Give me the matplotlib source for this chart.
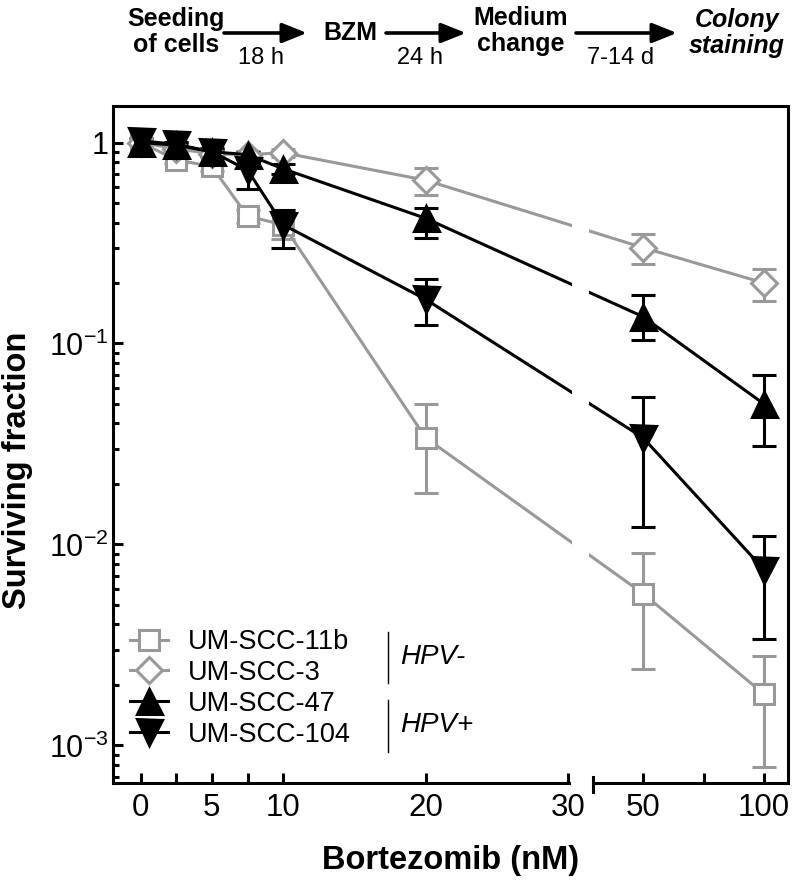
import numpy as np
import matplotlib
matplotlib.use('Agg')
import matplotlib.pyplot as plt
from matplotlib.patches import Rectangle, FancyArrowPatch
from matplotlib.lines import Line2D

plt.rcParams['font.family'] = ['Liberation Sans', 'DejaVu Sans']
plt.rcParams['mathtext.fontset'] = 'custom'
plt.rcParams['mathtext.rm'] = 'Liberation Sans'
plt.rcParams['mathtext.it'] = 'Liberation Sans:italic'

# data
dose = [0, 2.5, 5, 7.5, 10, 20, 50, 100]

scc11b = [1.0, 0.82, 0.76, 0.43, 0.39, 0.034, 0.0057, 0.0018]
scc11b_lo = [1.0, 0.79, 0.72, 0.40, 0.33, 0.018, 0.0024, 0.00078]
scc11b_hi = [1.0, 0.85, 0.80, 0.46, 0.46, 0.050, 0.0091, 0.0028]

scc3 = [1.0, 0.93, 0.88, 0.87, 0.89, 0.65, 0.30, 0.20]
scc3_lo = [1.0, 0.90, 0.85, 0.83, 0.85, 0.55, 0.25, 0.162]
scc3_hi = [1.0, 0.96, 0.91, 0.91, 0.93, 0.745, 0.35, 0.235]

scc47 = [1.0, 0.97, 0.90, 0.87, 0.74, 0.42, 0.136, 0.050]
scc47_lo = [1.0, 0.95, 0.87, 0.84, 0.70, 0.335, 0.104, 0.031]
scc47_hi = [1.0, 0.99, 0.93, 0.90, 0.78, 0.475, 0.175, 0.070]

scc104 = [1.02, 0.98, 0.90, 0.73, 0.39, 0.166, 0.034, 0.0075]
scc104_lo = [1.0, 0.95, 0.86, 0.59, 0.30, 0.124, 0.0122, 0.0034]
scc104_hi = [1.05, 1.01, 0.94, 0.84, 0.46, 0.21, 0.054, 0.011]

labels = ['UM-SCC-11b', 'UM-SCC-3', 'UM-SCC-47', 'UM-SCC-104']
xticks = [0, 2.5, 5, 7.5, 10, 20, 30, 50, 75, 100]
xticklabels = ['0', '', '5', '', '10', '20', '30', '50', '', '100']

GRAY = '#999999'
W, H = 794, 893


def fx(px):
    return px / W


def fy(py):
    return 1 - py / H


# broken x axis: 0-30 linear, then 50-100 compressed
BRK = 30.0
U50 = 35.27
R = 0.17


def fwd(x):
    x = np.asarray(x, float)
    return np.where(x <= BRK, x, U50 + (x - 50) * R)


def inv(u):
    u = np.asarray(u, float)
    return np.where(u <= BRK, u,
                    np.where(u < U50 + (BRK - 50) * R, BRK, 50 + (u - U50) / R))


fig = plt.figure(figsize=(W / 100, H / 100), dpi=100)
ax = fig.add_axes([fx(113), fy(783), fx(788) - fx(113), fy(106) - fy(783)])
ax.set_xscale('function', functions=(fwd, inv))
ax.set_yscale('log')
XMIN, XMAX = -1.945, 109.9
ax.set_xlim(XMIN, XMAX)
ax.set_ylim(6.5e-4, 1.52)

series = [
    (scc11b, scc11b_lo, scc11b_hi, 's', GRAY, 'white', 14.5),
    (scc3, scc3_lo, scc3_hi, 'D', GRAY, 'white', 13),
    (scc47, scc47_lo, scc47_hi, '^', 'black', 'black', 18),
    (scc104, scc104_lo, scc104_hi, 'v', 'black', 'black', 18),
]

handles = []
for i, (v, lo, hi, m, c, fc, ms) in enumerate(series):
    v = np.array(v)
    yerr = [v - np.array(lo), np.array(hi) - v]
    ax.errorbar(dose, v, yerr=yerr, fmt='none', ecolor=c, elinewidth=2.2,
                capsize=8.5, capthick=2.2, zorder=2 + i * 0.01)
    ln, = ax.plot(dose, v, color=c, lw=2.2, marker=m, ms=ms, mfc=fc, mec=c,
                  mew=2.2, zorder=2.05 + i * 0.01, label=labels[i])
    handles.append(ln)

# spines
for s in ['left', 'top', 'right']:
    ax.spines[s].set_linewidth(2.2)
ax.spines['bottom'].set_visible(False)

u_lo, u_hi = float(fwd(XMIN)), float(fwd(XMAX))


def frac(u):
    return (u - u_lo) / (u_hi - u_lo)


# gap in the data lines across the break
ax.add_patch(Rectangle((frac(30.28), 0.004), frac(31.47) - frac(30.28), 0.992,
                       transform=ax.transAxes, facecolor='white',
                       edgecolor='none', zorder=2.3))
# bottom axis in two pieces
ax.add_line(Line2D([0, frac(30.0) + 0.002], [0, 0], transform=ax.transAxes,
                   color='black', lw=2.2, clip_on=False, zorder=3,
                   solid_capstyle='projecting'))
ax.add_line(Line2D([frac(31.755), 1], [0, 0], transform=ax.transAxes,
                   color='black', lw=2.2, clip_on=False, zorder=3,
                   solid_capstyle='projecting'))
ax.add_line(Line2D([frac(31.755)] * 2, [-0.013, 0.009], transform=ax.transAxes,
                   color='black', lw=2.2, clip_on=False, zorder=3))

ax.set_xticks(xticks)
ax.set_xticklabels(xticklabels)
ax.xaxis.set_minor_locator(matplotlib.ticker.NullLocator())
ax.tick_params(axis='x', direction='in', length=7.5, width=2.2, labelsize=22.5,
               pad=7)
ax.set_yticks([1, 0.1, 0.01, 0.001])
ax.set_yticklabels(['1', r'$10^{-1}$', r'$10^{-2}$', r'$10^{-3}$'])
ax.tick_params(axis='y', which='major', direction='in', length=7.5, width=2.2,
               labelsize=22, pad=3)
ax.tick_params(axis='y', which='minor', direction='in', length=4.5, width=2.2)
ax.tick_params(top=False, right=False, which='both')

ax.set_xlabel('Bortezomib (nM)', fontsize=23.5, fontweight='bold')
ax.xaxis.set_label_coords(0.5, -0.092)
ax.set_ylabel('Surviving fraction', fontsize=23.5, fontweight='bold')
ax.yaxis.set_label_coords(-0.118, 0.462)

leg = ax.legend(handles=handles, loc='upper left', frameon=False,
                bbox_to_anchor=(fx(130), fy(629)), bbox_transform=fig.transFigure,
                fontsize=19.5, borderpad=0, borderaxespad=0, handlelength=1.4,
                handletextpad=0.75, labelspacing=0.18)

# HPV brackets
fig.add_artist(Line2D([fx(388)] * 2, [fy(632), fy(683)], color='black', lw=1))
fig.add_artist(Line2D([fx(388)] * 2, [fy(700), fy(752)], color='black', lw=1))
fig.text(fx(400), fy(657), 'HPV-', fontsize=20, style='italic', va='center')
fig.text(fx(400), fy(725), 'HPV+', fontsize=20, style='italic', va='center')

# timeline on top
bold = dict(fontsize=18, fontweight='bold', ha='center', va='center',
            linespacing=1.15)
fig.text(fx(176), fy(32), 'Seeding\nof cells', **bold)
fig.text(fx(350), fy(33), 'BZM', **bold)
fig.text(fx(521), fy(31), 'Medium\nchange', **bold)
fig.text(fx(737), fy(33), 'Colony\nstaining', style='italic', **bold)
small = dict(fontsize=17, ha='center', va='center')
fig.text(fx(261), fy(58), '18 h', **small)
fig.text(fx(420), fy(58), '24 h', **small)
fig.text(fx(621), fy(58), '7-14 d', **small)
for x0, x1 in [(224, 307), (386, 466), (576, 677)]:
    fig.add_artist(FancyArrowPatch((fx(x0), fy(33)), (fx(x1), fy(33)),
                                   transform=fig.transFigure,
                                   arrowstyle='-|>,head_length=1.5,head_width=0.6',
                                   mutation_scale=10, lw=2.6, color='black',
                                   shrinkA=0, shrinkB=0))

fig.savefig('out.png', dpi=100)
